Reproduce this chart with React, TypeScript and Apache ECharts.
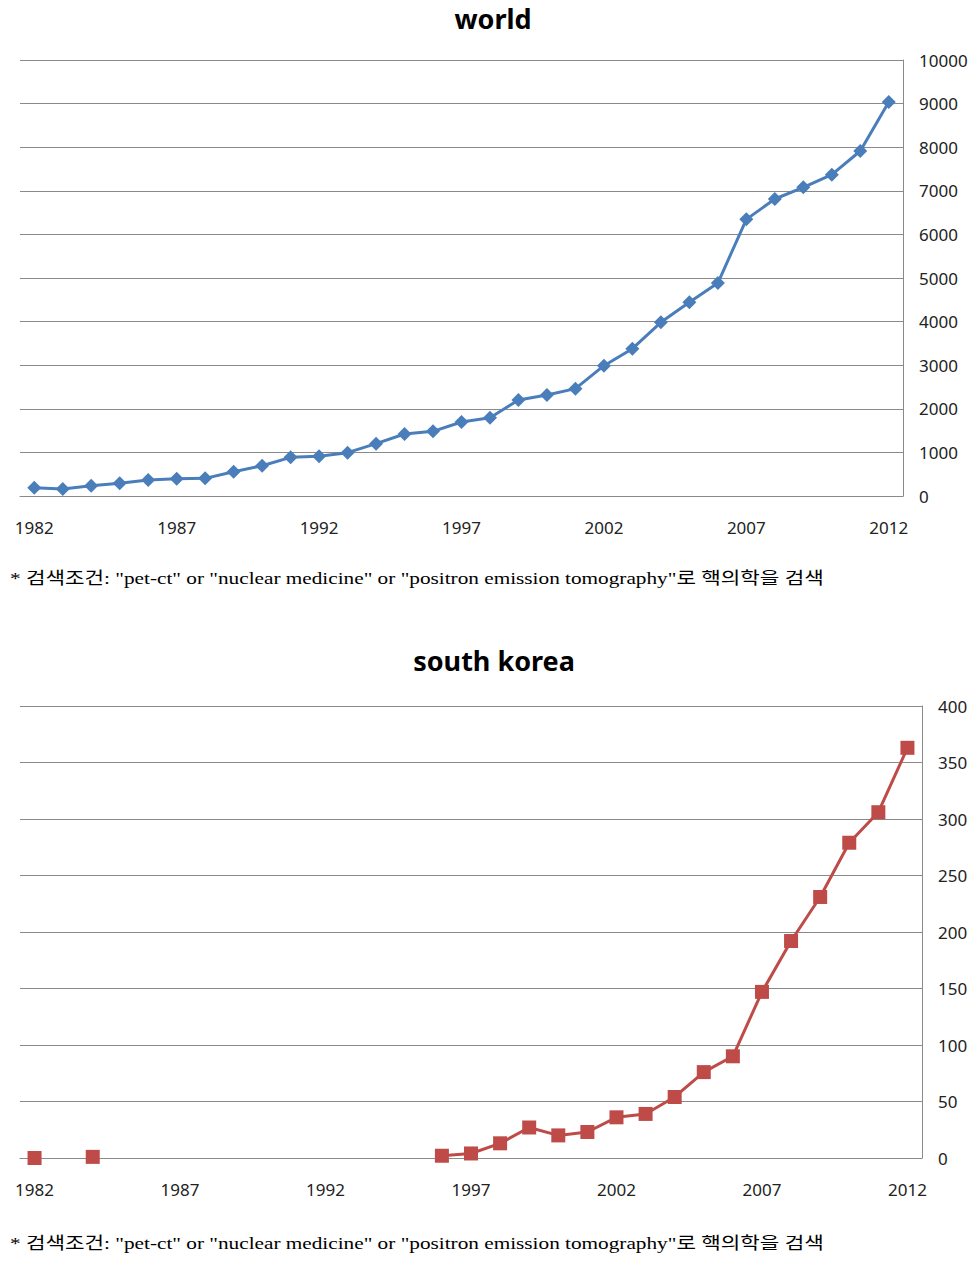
import React, { useEffect, useRef } from "react";
import * as echarts from "echarts";

const years: string[] = [];
for (let y = 1982; y <= 2012; y++) years.push(String(y));

const worldValues: (number | null)[] = [
  190, 160, 236, 290, 367, 397, 405, 558, 695, 887,
  910, 994, 1200, 1422, 1483, 1697, 1796, 2200, 2316, 2462,
  2989, 3379, 3983, 4442, 4885, 6345, 6812, 7080, 7370, 7913,
  9037,
];

const koreaValues: (number | null)[] = [
  0, null, 1, null, null, null, null, null, null, null,
  null, null, null, null, 2, 4, 13, 27, 20, 23,
  36, 39, 54, 76, 90, 147, 192, 231, 279, 306,
  363,
];

const worldTicks = { min: 0, max: 10000, interval: 1000 };
const koreaTicks = { min: 0, max: 400, interval: 50 };

const titles = ["world", "south korea"];
const footnote =
  '* 검색조건: "pet-ct" or "nuclear medicine" or "positron emission tomography"로 핵의학을 검색';

const GRID_COLOR = "#8a8a8a";
const LABEL_FONT = "'Noto Sans', sans-serif";
const NOTE_FONT = "'Liberation Serif', 'Noto Sans CJK KR', serif";

export default function App() {
  const ref = useRef<HTMLDivElement>(null);
  useEffect(() => {
    document.body.style.margin = "0";
    const chart = echarts.init(ref.current!, null, { renderer: "svg" });
    const xAxisBase = {
      type: "category" as const,
      data: years,
      boundaryGap: true,
      axisLine: { show: true, lineStyle: { color: GRID_COLOR, width: 1 } },
      axisTick: { show: false },
      axisLabel: {
        interval: 4,
        color: "#222",
        fontFamily: LABEL_FONT,
        fontSize: 17,
        margin: 23,
      },
      splitLine: { show: false },
    };
    const yAxisBase = {
      type: "value" as const,
      position: "right" as const,
      axisLine: { show: true, lineStyle: { color: GRID_COLOR, width: 1 } },
      axisTick: { show: false },
      splitLine: { show: true, lineStyle: { color: GRID_COLOR, width: 1 } },
      axisLabel: {
        color: "#222",
        fontFamily: LABEL_FONT,
        fontSize: 17,
        margin: 16,
        formatter: (v: number) => String(v),
      },
    };
    const titleStyle = {
      fontFamily: LABEL_FONT,
      fontWeight: "bold" as const,
      fontSize: 27,
      lineHeight: 30,
      color: "#000",
    };
    chart.setOption({
      animation: false,
      backgroundColor: "#fff",
      title: [
        {
          text: titles[0],
          left: 493,
          top: 3,
          padding: 0,
          textAlign: "center",
          textStyle: titleStyle,
        },
        {
          text: titles[1],
          left: 494,
          top: 645,
          padding: 0,
          textAlign: "center",
          textStyle: titleStyle,
        },
      ],
      grid: [
        { left: 20, right: 75, top: 60, bottom: 769, containLabel: false },
        { left: 20, right: 56, top: 706, bottom: 107, containLabel: false },
      ],
      xAxis: [
        { ...xAxisBase, gridIndex: 0 },
        { ...xAxisBase, gridIndex: 1 },
      ],
      yAxis: [
        { ...yAxisBase, gridIndex: 0, ...worldTicks },
        { ...yAxisBase, gridIndex: 1, ...koreaTicks },
      ],
      series: [
        {
          type: "line",
          xAxisIndex: 0,
          yAxisIndex: 0,
          data: worldValues,
          symbol: "diamond",
          symbolSize: 14,
          lineStyle: { color: "#4a7ebb", width: 3 },
          itemStyle: { color: "#4a7ebb" },
          connectNulls: false,
        },
        {
          type: "line",
          xAxisIndex: 1,
          yAxisIndex: 1,
          data: koreaValues,
          symbol: "rect",
          symbolSize: 14,
          showAllSymbol: true,
          lineStyle: { color: "#be4b48", width: 3 },
          itemStyle: { color: "#be4b48" },
          connectNulls: false,
        },
      ],
      graphic: [
        {
          type: "text",
          x: 10,
          y: 570,
          scaleX: 1.25,
          style: { text: footnote, font: `17px ${NOTE_FONT}`, fill: "#000" },
        },
        {
          type: "text",
          x: 10,
          y: 1235,
          scaleX: 1.25,
          style: { text: footnote, font: `17px ${NOTE_FONT}`, fill: "#000" },
        },
      ],
    });
    return () => chart.dispose();
  }, []);
  return (
    <div
      ref={ref}
      style={{ position: "absolute", left: 0, top: 0, width: 978, height: 1265 }}
    />
  );
}
